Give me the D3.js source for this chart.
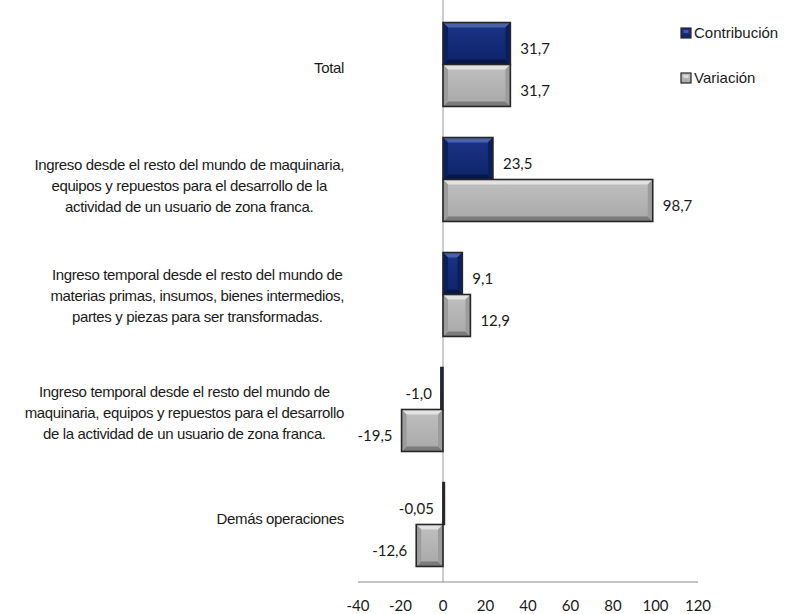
<!DOCTYPE html>
<html>
<head>
<meta charset="utf-8">
<script src="https://cdn.jsdelivr.net/npm/d3@7"></script>
<style>
  html, body { margin: 0; padding: 0; background: #fff; }
  svg { display: block; }
  .cat { font-family: "Liberation Sans", Arial, sans-serif; font-size: 15px; letter-spacing: -0.35px; fill: #1a1a1a; }
  .val, .tick-lbl { font-family: Lato, "Open Sans", sans-serif; font-size: 15px; fill: #1a1a1a; }
  .leg { font-family: "Liberation Sans", Arial, sans-serif; font-size: 15px; fill: #1a1a1a; }
</style>
</head>
<body>
<svg id="chart" width="790" height="614"></svg>
<script>
"use strict";

/* ── Data ─────────────────────────────────────────────── */
const categories = [
  ["Total"],
  ["Ingreso  desde el resto del mundo de maquinaria,", "equipos y repuestos para el desarrollo de la", "actividad de un usuario de zona franca."],
  ["Ingreso temporal desde el resto del mundo de", "materias primas, insumos, bienes intermedios,", "partes y piezas para ser transformadas."],
  ["Ingreso temporal desde el resto del mundo de", "maquinaria, equipos y repuestos para el desarrollo", "de la actividad de un usuario de zona franca."],
  ["Demás operaciones"]
];
const series = ["Contribución", "Variación"];
const contribucion = [31.7, 23.5, 9.1, -1.0, -0.05];
const variacion    = [31.7, 98.7, 12.9, -19.5, -12.6];
const valueLabels  = [
  ["31,7", "23,5", "9,1", "-1,0", "-0,05"],
  ["31,7", "98,7", "12,9", "-19,5", "-12,6"]
];
const xTicks = [-40, -20, 0, 20, 40, 60, 80, 100, 120];

/* ── Layout ───────────────────────────────────────────── */
const X0 = 358, X1 = 698, Y0 = 7, Y1 = 582;
const LABEL_RIGHT = 344;          // right edge of every category label block
const labelDy = [3, 6, 1, 3, -6];
const LINE_H = 21;

const svg = d3.select("#chart");
const defs = svg.append("defs");

const x = d3.scaleLinear().domain([-40, 120]).range([X0, X1]);
const y = d3.scaleBand().domain(d3.range(categories.length)).range([Y0, Y1]);
const ys = d3.scaleBand().domain(series).range([0, y.bandwidth()]).paddingOuter(0.37);

const STYLE = {
  "Contribución": { top: "#4a62aa", bottom: "#071848", side: "#0b1f5e", grad: ["#1a3488", "#0e2468"] },
  "Variación":    { top: "#e2e2e2", bottom: "#7b7b7b", side: "#9c9c9c", grad: ["#c0c0c0", "#a8a8a8"] }
};

series.forEach((s, i) => {
  const g = defs.append("linearGradient").attr("id", "grad" + i)
    .attr("x1", 0).attr("y1", 0).attr("x2", 0).attr("y2", 1);
  g.append("stop").attr("offset", "0%").attr("stop-color", STYLE[s].grad[0]);
  g.append("stop").attr("offset", "100%").attr("stop-color", STYLE[s].grad[1]);
});

/* ── Bars ─────────────────────────────────────────────── */
const rows = [];
categories.forEach((c, ci) => {
  [contribucion, variacion].forEach((arr, si) => {
    rows.push({ ci, si, s: series[si], v: arr[ci], label: valueLabels[si][ci] });
  });
});

function drawBevelBar(sel, d) {
  const bx = Math.min(x(0), x(d.v));
  const bw = Math.max(Math.abs(x(d.v) - x(0)), 1.5);
  const by = y(d.ci) + ys(d.s);
  const bh = ys.bandwidth();
  const st = STYLE[d.s];
  const b = Math.min(5, bw / 2.5, bh / 3);
  const g = sel.append("g");
  g.append("rect").attr("x", bx).attr("y", by).attr("width", bw).attr("height", bh)
    .attr("fill", `url(#grad${d.si})`);
  if (bw > 4) {
    const pts = (arr) => arr.map((p) => p.join(",")).join(" ");
    const L = bx, R = bx + bw, T = by, B = by + bh;
    g.append("polygon").attr("points", pts([[L, T], [R, T], [R - b, T + b], [L + b, T + b]])).attr("fill", st.top);
    g.append("polygon").attr("points", pts([[L, B], [R, B], [R - b, B - b], [L + b, B - b]])).attr("fill", st.bottom);
    g.append("polygon").attr("points", pts([[L, T], [L + b, T + b], [L + b, B - b], [L, B]])).attr("fill", st.side);
    g.append("polygon").attr("points", pts([[R, T], [R - b, T + b], [R - b, B - b], [R, B]])).attr("fill", st.side);
  }
  g.append("rect").attr("x", bx).attr("y", by).attr("width", bw).attr("height", bh)
    .attr("fill", "none").attr("stroke", "#262626").attr("stroke-width", 1.6);
}

/* zero line */
svg.append("line")
  .attr("x1", x(0)).attr("x2", x(0)).attr("y1", 0).attr("y2", Y1)
  .attr("stroke", "#9a9a9a").attr("stroke-width", 1);

const barG = svg.append("g");
rows.forEach((d) => drawBevelBar(barG, d));

/* value labels */
svg.append("g").selectAll("text").data(rows).join("text")
  .attr("class", "val")
  .attr("x", (d) => d.v >= 0 ? x(d.v) + 10 : x(d.v) - 9)
  .attr("y", (d) => y(d.ci) + ys(d.s) + ys.bandwidth() / 2 + 5)
  .attr("dy", "0.35em")
  .attr("text-anchor", (d) => d.v >= 0 ? "start" : "end")
  .text((d) => d.label);

/* ── X axis ───────────────────────────────────────────── */
svg.append("line")
  .attr("x1", X0).attr("x2", X1).attr("y1", Y1).attr("y2", Y1)
  .attr("stroke", "#8c8c8c").attr("stroke-width", 1.2);

svg.append("g").selectAll("text").data(xTicks).join("text")
  .attr("class", "tick-lbl")
  .attr("x", (d) => x(d))
  .attr("y", Y1 + 24)
  .attr("dy", "0.35em")
  .attr("text-anchor", "middle")
  .text((d) => d);

/* ── Category labels (lines centred, block right-aligned) ── */
const catG = svg.append("g");
categories.forEach((lines, ci) => {
  const cy = y(ci) + y.bandwidth() / 2 + labelDy[ci];
  const t = catG.append("text").attr("class", "cat").attr("text-anchor", "middle");
  const spans = lines.map((ln, li) => t.append("tspan")
    .attr("y", cy + (li - (lines.length - 1) / 2) * LINE_H)
    .attr("dy", "0.35em")
    .text(ln));
  const w = d3.max(spans, (s) => s.node().getComputedTextLength());
  spans.forEach((s) => s.attr("x", LABEL_RIGHT - w / 2));
});

/* ── Legend ───────────────────────────────────────────── */
const leg = svg.append("g").attr("transform", "translate(681,28)");
series.forEach((s, i) => {
  const r = leg.append("g").attr("transform", `translate(0,${i * 45})`);
  r.append("rect").attr("x", 0).attr("y", 0).attr("width", 10).attr("height", 10)
    .attr("fill", `url(#grad${i})`).attr("stroke", "#262626").attr("stroke-width", 1.2);
  r.append("rect").attr("x", 2.5).attr("y", 2).attr("width", 5).attr("height", 3)
    .attr("fill", STYLE[s].top).attr("opacity", 0.8);
  r.append("text").attr("class", "leg").attr("x", 13).attr("y", 5).attr("dy", "0.35em").text(s);
});
</script>
</body>
</html>
